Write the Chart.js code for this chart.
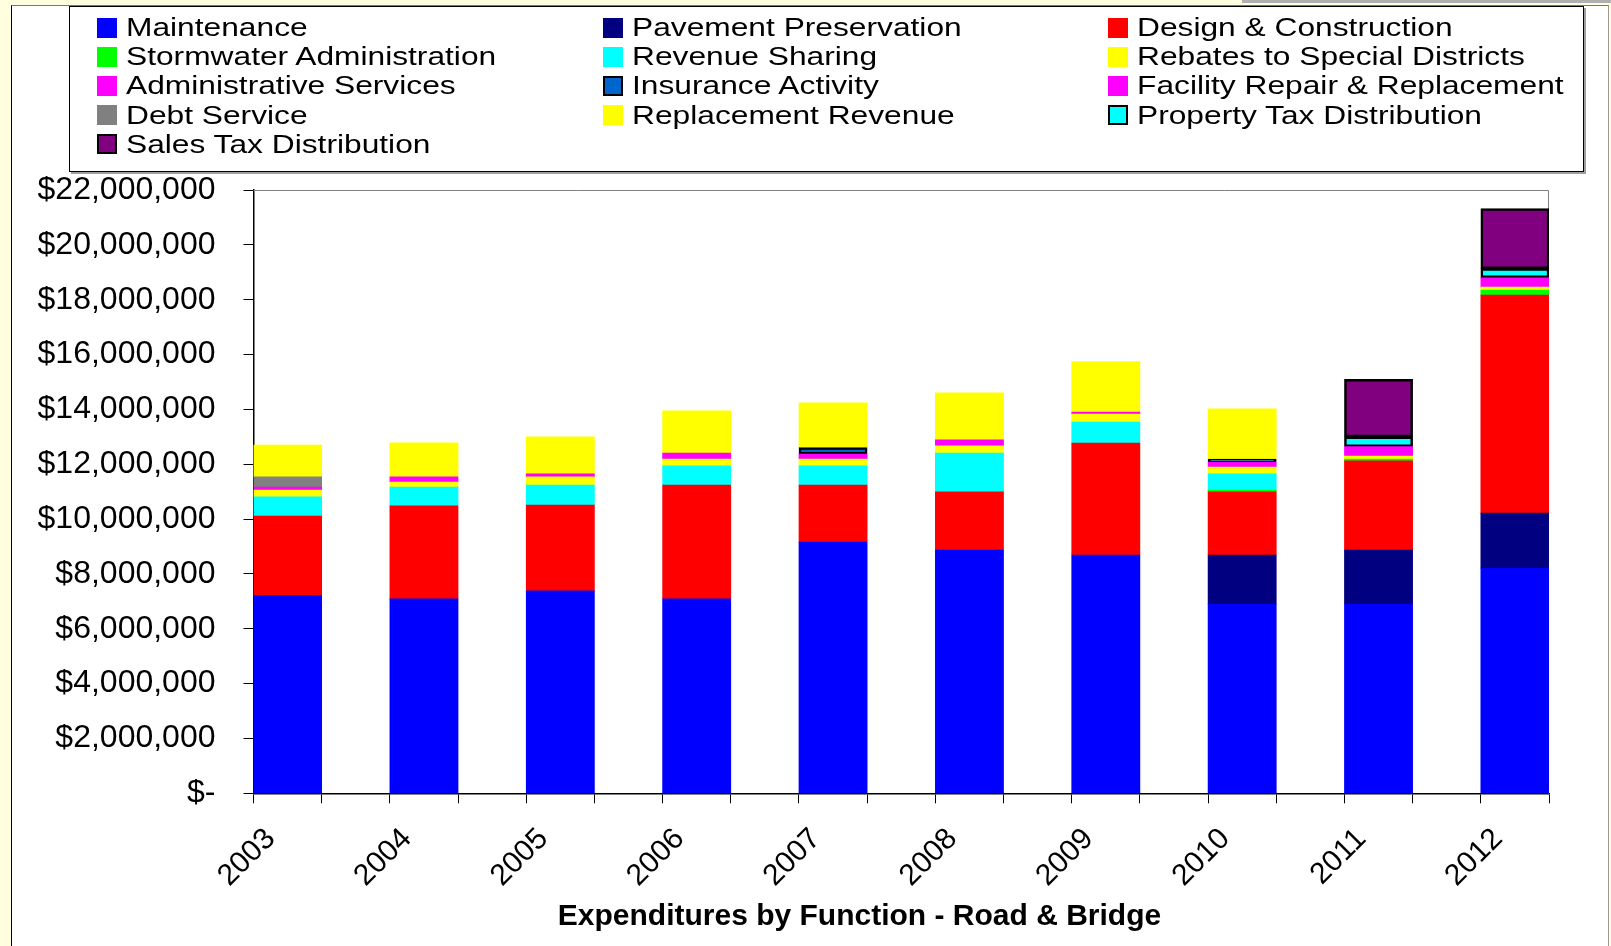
<!DOCTYPE html>
<html>
<head>
<meta charset="utf-8">
<title>Expenditures by Function - Road &amp; Bridge</title>
<script src="https://cdn.jsdelivr.net/npm/chart.js@4.4.0/dist/chart.umd.min.js"></script>
<style>
body{margin:0;background:#ffffe0;width:1611px;height:946px;overflow:hidden;position:relative;font-family:"Liberation Sans",Arial,sans-serif;}
#panel{position:absolute;left:11px;top:5px;width:1596px;height:941px;background:#fff;border-left:1px solid #000;border-top:1px solid #777;border-right:1px solid #999;}
#grayBar{position:absolute;left:1242px;top:0;width:369px;height:3px;background:#b0b0b0;}
#wrap{position:absolute;left:0;top:0;width:1611px;height:946px;}
#legend{position:absolute;left:69px;top:6px;width:1513px;height:164px;border:1px solid #000;box-shadow:2px 2px 0 #a0a0a0;background:#fff;}
.item{position:absolute;height:29px;display:flex;align-items:center;white-space:nowrap;}
.sw{width:20px;height:20px;box-sizing:border-box;margin-right:9px;flex:none;}
.txt{font-size:26px;line-height:29px;color:#000;transform:scaleX(1.22);transform-origin:left center;}
#title{position:absolute;left:0;width:1719px;top:897px;height:36px;line-height:36px;text-align:center;font-size:30px;font-weight:bold;color:#000;}
</style>
</head>
<body>
<div id="panel"></div>
<div id="grayBar"></div>
<div id="wrap"><canvas id="canvas"></canvas></div>
<div id="legend"></div>
<div id="title">Expenditures by Function - Road &amp; Bridge</div>
<script>
// values, in dollars
var years = ['2003','2004','2005','2006','2007','2008','2009','2010','2011','2012'];
var maintenance        = [7210000, 7090000, 7380000, 7090000, 9160000, 8870000, 8690000, 6900000, 6900000, 8210000];
var pavementPres       = [0, 0, 0, 0, 0, 0, 0, 1790000, 1970000, 2010000];
var designConstruction = [2900000, 3390000, 3130000, 4150000, 2080000, 2120000, 4080000, 2300000, 3250000, 7950000];
var stormwater         = [0, 0, 0, 0, 0, 0, 0, 70000, 70000, 180000];
var revenueSharing     = [700000, 690000, 730000, 700000, 700000, 1420000, 770000, 590000, 0, 0];
var rebates            = [250000, 180000, 300000, 250000, 250000, 260000, 290000, 250000, 110000, 110000];
var adminServices      = [110000, 190000, 110000, 220000, 180000, 220000, 70000, 180000, 340000, 340000];
var insurance          = [0, 0, 0, 0, 240000, 0, 0, 110000, 0, 0];
var facilityRepair     = [0, 0, 0, 0, 0, 0, 0, 0, 0, 0];
var debtService        = [370000, 0, 0, 0, 0, 0, 0, 0, 0, 0];
var replacementRevenue = [1160000, 1240000, 1350000, 1540000, 1630000, 1710000, 1840000, 1830000, 0, 0];
var propertyTax        = [0, 0, 0, 0, 0, 0, 0, 0, 360000, 330000];
var salesTax           = [0, 0, 0, 0, 0, 0, 0, 0, 2100000, 2190000];

var yTicks = [0, 2000000, 4000000, 6000000, 8000000, 10000000, 12000000, 14000000, 16000000, 18000000, 20000000, 22000000];

var series = [
    ['Maintenance', maintenance, '#0000ff', false],
    ['Pavement Preservation', pavementPres, '#000080', false],
    ['Design & Construction', designConstruction, '#ff0000', false],
    ['Stormwater Administration', stormwater, '#00ff00', false],
    ['Revenue Sharing', revenueSharing, '#00ffff', false],
    ['Rebates to Special Districts', rebates, '#ffff00', false],
    ['Administrative Services', adminServices, '#ff00ff', false],
    ['Insurance Activity', insurance, '#0066cc', true],
    ['Facility Repair & Replacement', facilityRepair, '#ff00ff', false],
    ['Debt Service', debtService, '#808080', false],
    ['Replacement Revenue', replacementRevenue, '#ffff00', false],
    ['Property Tax Distribution', propertyTax, '#00ffff', true],
    ['Sales Tax Distribution', salesTax, '#800080', true]
];

Chart.defaults.font.family = "'Liberation Sans', Arial, sans-serif";
Chart.defaults.color = '#000';

var datasets = series.map(function(s){
    return {
        label: s[0],
        data: s[1].map(function(v, i){ return {x: i, y: v || null}; }),
        backgroundColor: s[2],
        borderColor: '#000',
        borderWidth: s[3] ? 2.5 : 0,
        borderSkipped: false,
        categoryPercentage: 1,
        barPercentage: 1
    };
});

// thin gray frame on top and right of plot area
var plotFrame = {
    id: 'plotFrame',
    beforeDatasetsDraw: function(chart){
        var a = chart.chartArea, ctx = chart.ctx;
        ctx.save();
        ctx.strokeStyle = '#808080';
        ctx.lineWidth = 1;
        ctx.beginPath();
        ctx.moveTo(a.left, a.top + 0.5);
        ctx.lineTo(a.right - 0.5, a.top + 0.5);
        ctx.lineTo(a.right - 0.5, a.bottom);
        ctx.stroke();
        ctx.restore();
    }
};

var xMin = -0.25, xMax = years.length - 0.75;

var ctx = document.getElementById('canvas').getContext('2d');
var myChart = new Chart(ctx, {
    type: 'bar',
    data: {datasets: datasets},
    plugins: [plotFrame],
    options: {
        responsive: true,
        maintainAspectRatio: false,
        animation: false,
        layout: {padding: {left: 20, right: 62, top: 190, bottom: 49}},
        scales: {
            // tick marks at every bar edge
            x: {
                type: 'linear',
                stacked: true,
                min: xMin,
                max: xMax,
                offset: false,
                weight: 0,
                afterBuildTicks: function(s){
                    var t = [];
                    for (var v = xMin; v <= xMax + 0.001; v += 0.5) t.push({value: v});
                    s.ticks = t;
                },
                afterFit: function(s){ s.height = 10; },
                ticks: {display: false},
                grid: {
                    offset: false,
                    drawOnChartArea: false,
                    drawTicks: true,
                    tickLength: 10,
                    tickColor: '#000'
                },
                border: {display: true, color: '#000', width: 1.5}
            },
            // year labels under the bars
            x2: {
                type: 'linear',
                position: 'bottom',
                min: xMin,
                max: xMax,
                offset: false,
                weight: 1,
                afterBuildTicks: function(s){
                    s.ticks = years.map(function(y, i){ return {value: i}; });
                },
                afterFit: function(s){ s.height = 93.7; },
                ticks: {
                    autoSkip: false,
                    minRotation: 45,
                    maxRotation: 45,
                    padding: 10,
                    labelOffset: -17,
                    font: {size: 30},
                    callback: function(v){ return years[v]; }
                },
                grid: {display: false},
                border: {display: false}
            },
            y: {
                stacked: true,
                min: 0,
                max: 22000000,
                afterBuildTicks: function(s){
                    s.ticks = yTicks.map(function(v){ return {value: v}; });
                },
                afterFit: function(s){ s.width = 233.5; },
                ticks: {
                    padding: 28,
                    font: {size: 32},
                    callback: function(v){ return v === 0 ? '$-' : '$' + v.toLocaleString('en-US'); }
                },
                grid: {
                    drawOnChartArea: false,
                    drawTicks: true,
                    tickLength: 10,
                    tickColor: '#000'
                },
                border: {display: true, color: '#000', width: 1.5}
            }
        },
        plugins: {
            legend: {display: false},
            tooltip: {enabled: false}
        }
    }
});

// legend in three columns, filled row by row like the original
var colLeft = [27, 533, 1038];
var legendBox = document.getElementById('legend');
myChart.data.datasets.forEach(function(d, i){
    var item = document.createElement('div');
    item.className = 'item';
    item.style.left = colLeft[i % 3] + 'px';
    item.style.top = (6 + Math.floor(i / 3) * 29.2) + 'px';
    var sw = document.createElement('div');
    sw.className = 'sw';
    sw.style.background = d.backgroundColor;
    if (d.borderWidth) sw.style.border = '2px solid #000';
    var tx = document.createElement('span');
    tx.className = 'txt';
    tx.textContent = d.label;
    item.appendChild(sw);
    item.appendChild(tx);
    legendBox.appendChild(item);
});
</script>
</body>
</html>
